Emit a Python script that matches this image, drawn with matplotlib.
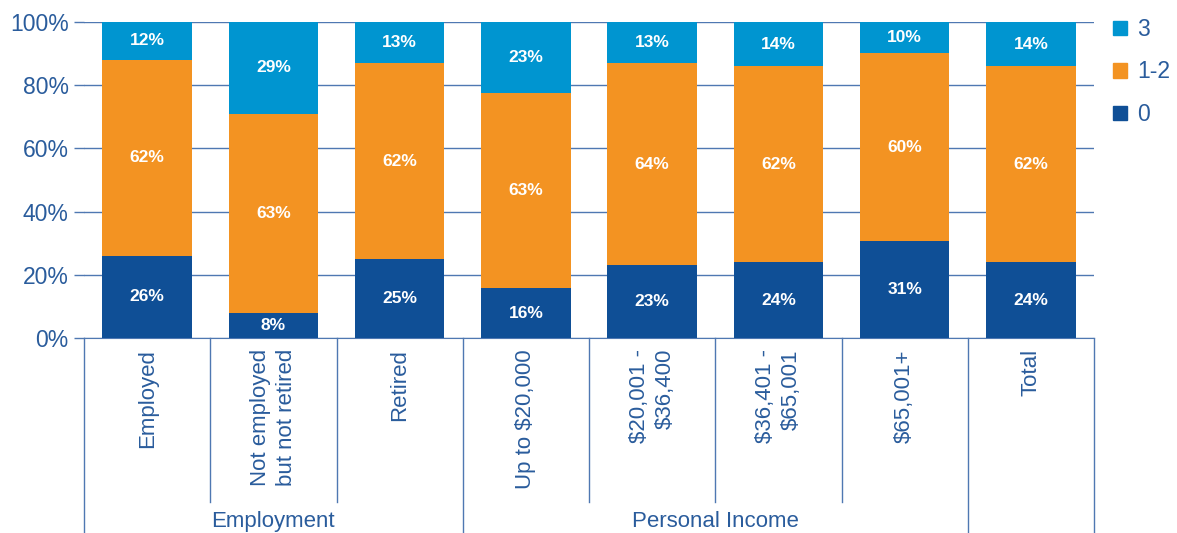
import numpy as np
import matplotlib
matplotlib.use("Agg")
import matplotlib.pyplot as plt
from matplotlib.patches import Patch
import matplotlib.transforms as mtransforms

plt.rcParams['font.family'] = ['Liberation Sans', 'DejaVu Sans']

categories = ["Employed", "Not employed\nbut not retired", "Retired",
              "Up to $20,000", "$20,001 -\n$36,400", "$36,401 -\n$65,001",
              "$65,001+", "Total"]
zero = [26, 8, 25, 16, 23, 24, 31, 24]
one_two = [62, 63, 62, 63, 64, 62, 60, 62]
three = [12, 29, 13, 23, 13, 14, 10, 14]
groups = ["Employment", "Personal Income", ""]
group_spans = [(0, 2), (3, 6), (7, 7)]

DARK = "#0f4f96"
ORANGE = "#f39322"
LIGHT = "#0095d0"
TEXT = "#2a5c9c"
LINE = "#4f78b2"

fig = plt.figure(figsize=(11.77, 5.33), dpi=100)
ax = fig.add_axes([84 / 1177, 195 / 533, 1010 / 1177, 316 / 533])

x = np.arange(len(categories))
vals = np.array([zero, one_two, three], dtype=float)
scaled = vals / vals.sum(axis=0) * 100  # rounded labels may not add to 100
colors = [DARK, ORANGE, LIGHT]
bottom = np.zeros(len(categories))
for row, lab_row, c in zip(scaled, vals, colors):
    ax.bar(x, row, bottom=bottom, width=0.71, color=c, zorder=3)
    for xi, b, h, v in zip(x, bottom, row, lab_row):
        ax.text(xi, b + h / 2, f"{int(v)}%", ha="center", va="center",
                color="white", fontsize=12.5, fontweight="bold", zorder=4)
    bottom += row

ax.set_xlim(-0.5, len(categories) - 0.5)
ax.set_ylim(0, 100)
ax.set_yticks(np.arange(0, 101, 20))
ax.set_yticklabels([f"{v}%" for v in range(0, 101, 20)])
ax.tick_params(axis="y", length=7, width=1, color=LINE, labelcolor=TEXT,
               labelsize=16.5, pad=4)
ax.set_xticks([])
ax.grid(axis="y", color=LINE, lw=1, zorder=0)
for s in ["top", "right", "left"]:
    ax.spines[s].set_visible(False)
ax.spines["bottom"].set_color(LINE)

# category separators and labels below the axis
trans = mtransforms.blended_transform_factory(ax.transData, ax.transAxes)
group_edges = {-0.5}
for a, b in group_spans:
    group_edges.add(b + 0.5)
for i in range(len(categories) + 1):
    xe = i - 0.5
    y_end = -0.62 if xe in group_edges else -0.52
    ax.plot([xe, xe], [0, y_end], color=LINE, lw=1, transform=trans,
            clip_on=False)
for xi, lab in zip(x, categories):
    ax.text(xi, -0.035, lab, rotation=90, ha="center", va="top",
            multialignment="right", color=TEXT, fontsize=16,
            transform=trans, linespacing=1.3)
for g, (a, b) in zip(groups, group_spans):
    if g:
        ax.text((a + b) / 2, -0.58, g, ha="center", va="center",
                color=TEXT, fontsize=16, transform=trans)

handles = [Patch(color=LIGHT), Patch(color=ORANGE), Patch(color=DARK)]
leg = fig.legend(handles, ["3", "1-2", "0"], loc="upper left",
                 bbox_to_anchor=(1113 / 1177, 1 - 18 / 533), frameon=False,
                 fontsize=16.5, handlelength=0.6, handleheight=0.6,
                 handletextpad=0.45, labelspacing=0.85, borderpad=0,
                 borderaxespad=0)
for t in leg.get_texts():
    t.set_color(TEXT)

fig.savefig("out.png", dpi=100)
